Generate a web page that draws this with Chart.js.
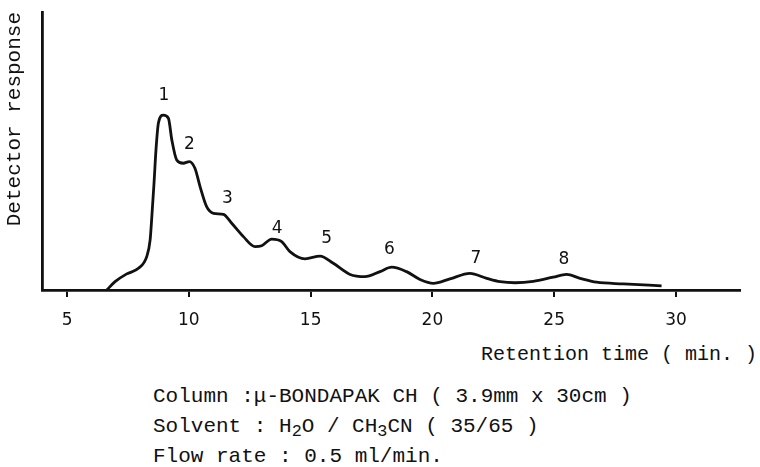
<!DOCTYPE html>
<html>
<head>
<meta charset="utf-8">
<script src="https://cdn.jsdelivr.net/npm/chart.js@4.4.1/dist/chart.umd.min.js"></script>
<style>
    html, body { margin: 0; padding: 0; background: #fff; }
    #wrap { position: relative; width: 760px; height: 467px; overflow: hidden; }
    #chartBox { position: absolute; left: 0; top: 0; width: 760px; height: 340px; }
    .mono { font-family: "Liberation Mono", "DejaVu Sans Mono", monospace; color: #111; white-space: pre; }
    #xTitle { position: absolute; right: 3px; top: 342px; font-size: 20px; line-height: 26px; }
    #notes { position: absolute; left: 153px; top: 382px; font-size: 21px; line-height: 30px; }
    #notes sub { font-size: 0.8em; vertical-align: -0.25em; line-height: 0; }
</style>
</head>
<body>
<div id="wrap">
    <div id="chartBox"><canvas id="chromChart"></canvas></div>
    <div id="xTitle" class="mono">Retention time ( min. )</div>
    <div id="notes" class="mono">Column :μ-BONDAPAK CH ( 3.9mm x 30cm )<br>Solvent : H<sub>2</sub>O / CH<sub>3</sub>CN ( 35/65 )<br>Flow rate : 0.5 ml/min.</div>
</div>
<script>
// --- Data ---
const retentionTimes = [6.63, 6.97, 7.45, 7.93, 8.27, 8.41, 8.48, 8.57, 8.65, 8.75,
    8.95, 9.16, 9.30, 9.50, 9.77, 10.02, 10.25, 10.46, 10.73, 11.01,
    11.42, 11.76, 12.24, 12.72, 12.99, 13.40, 13.81, 14.15, 14.77, 15.39,
    15.93, 16.62, 17.23, 17.85, 18.33, 18.94, 19.49, 20.04, 20.72, 21.54,
    22.23, 22.78, 23.40, 24.14, 24.96, 25.51, 26.06, 26.74, 27.84, 29.41];
const responses = [0, 3.0, 5.8, 7.8, 12.0, 18.0, 26.4, 38.5, 50.4, 60.1,
    62.9, 61.8, 54.0, 46.8, 45.6, 46.2, 43.8, 37.2, 30.0, 27.6,
    27.2, 24.0, 19.2, 15.6, 15.9, 18.3, 17.4, 13.8, 11.2, 12.2,
    9.6, 5.6, 4.8, 6.6, 8.2, 6.6, 3.8, 2.4, 4.0, 6.0,
    4.2, 3.0, 2.6, 3.1, 4.6, 5.6, 4.2, 2.8, 2.2, 1.5];

// peak numbers and where they are written
const peakNames = ['1', '2', '3', '4', '5', '6', '7', '8'];
const peakTimes = [8.98, 10.02, 11.58, 13.63, 15.66, 18.23, 21.79, 25.40];
const peakLabelHeights = [70.1, 52.2, 33.0, 22.2, 18.6, 14.6, 11.4, 11.0];

const xTicks = [5, 10, 15, 20, 25, 30];
const xMin = 3.97, xMax = 32.63;

// --- Peak number labels ---
const peakLabelPlugin = {
    id: 'peakLabels',
    afterDatasetsDraw(chart) {
        const ctx = chart.ctx;
        const xs = chart.scales.x, ys = chart.scales.y;
        ctx.save();
        ctx.fillStyle = '#111';
        ctx.font = '17px "DejaVu Sans"';
        ctx.textAlign = 'center';
        ctx.textBaseline = 'middle';
        peakNames.forEach((name, i) => {
            ctx.fillText(name, xs.getPixelForValue(peakTimes[i]), ys.getPixelForValue(peakLabelHeights[i]));
        });
        ctx.restore();
    }
};

const ctx = document.getElementById('chromChart').getContext('2d');
new Chart(ctx, {
    type: 'line',
    data: {
        datasets: [{
            data: retentionTimes.map((t, i) => ({ x: t, y: responses[i] })),
            borderColor: '#111',
            borderWidth: 2.8,
            pointRadius: 0,
            cubicInterpolationMode: 'monotone',
            fill: false
        }]
    },
    options: {
        responsive: true,
        maintainAspectRatio: false,
        animation: false,
        events: [],
        layout: { padding: { left: 0, right: 20, top: 12, bottom: 0 } },
        plugins: {
            legend: { display: false },
            tooltip: { enabled: false }
        },
        scales: {
            x: {
                type: 'linear',
                min: xMin,
                max: xMax,
                afterBuildTicks: scale => { scale.ticks = xTicks.map(v => ({ value: v })); },
                afterFit: scale => { scale.height = 50; },
                border: { color: '#111', width: 2.8 },
                grid: { drawOnChartArea: false, drawTicks: true, tickLength: 7, color: '#111', lineWidth: 2 },
                ticks: {
                    autoSkip: false,
                    maxRotation: 0,
                    padding: 13,
                    color: '#111',
                    font: { family: 'DejaVu Sans', size: 17 }
                }
            },
            y: {
                min: 0,
                max: 100,
                afterFit: scale => { scale.width = 42; },
                border: { color: '#111', width: 2.8 },
                grid: { display: false },
                ticks: { display: false },
                title: {
                    display: true,
                    text: 'Detector response',
                    align: 'end',
                    color: '#111',
                    padding: { top: 2, bottom: 0 },
                    font: { family: 'Liberation Mono', size: 21, weight: 'normal' }
                }
            }
        }
    },
    plugins: [peakLabelPlugin]
});
</script>
</body>
</html>
